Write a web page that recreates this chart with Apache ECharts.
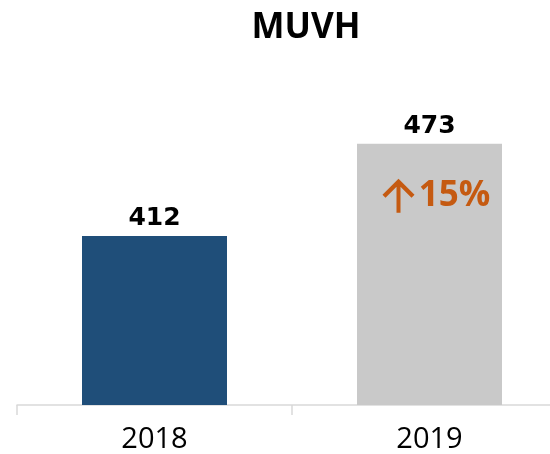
<!DOCTYPE html>
<html>
<head>
<meta charset="utf-8">
<script src="https://cdn.jsdelivr.net/npm/echarts@6/dist/echarts.min.js"></script>
<style>
  html, body { margin: 0; padding: 0; background: #fff; }
  #chart { width: 550px; height: 454px; }
</style>
</head>
<body>
<div id="chart"></div>
<script>
const years = ["2018", "2019"]
const muvh = [412, 473]
const barColors = ["#1F4E79", "#C9C9C9"]
const growthText = "15%"

// up arrow drawn as a symbol, the text "15%" sits to its right
const arrowPath = "path://M16 0 L32 16 L29 19 L18 8 L18 34 L14 34 L14 8 L3 19 L0 16 Z"
const orange = "#C55A11"

const chart = echarts.init(document.getElementById("chart"))

chart.setOption({
  animation: false,
  textStyle: { fontFamily: "Open Sans" },
  title: {
    text: "MUVH",
    left: 301,
    top: 6,
    textAlign: "center",
    textStyle: { fontSize: 35, fontWeight: "bold", color: "#000", fontFamily: "Open Sans" },
  },
  grid: { left: 17, width: 550, top: 103, bottom: 49, outerBoundsMode: "none", containLabel: false },
  xAxis: {
    type: "category",
    data: years,
    axisLine: { show: true, lineStyle: { color: "#D9D9D9", width: 1.5 } },
    axisTick: { show: true, length: 10, lineStyle: { color: "#D9D9D9", width: 1.5 } },
    axisLabel: { fontSize: 29, color: "#000", margin: 20 },
  },
  yAxis: {
    type: "value",
    min: 300,
    max: 500,
    show: false,
    splitLine: { show: false },
  },
  series: [
    {
      type: "bar",
      barWidth: 145,
      data: muvh.map((v, i) => ({ value: v, itemStyle: { color: barColors[i] } })),
      label: {
        show: true,
        position: "top",
        distance: 5,
        fontSize: 25,
        fontWeight: "bold",
        fontFamily: "DejaVu Sans",
        color: "#000",
      },
      markPoint: {
        data: [
          {
            coord: [years[1], 438.5],
            symbol: arrowPath,
            symbolSize: [32, 34],
            symbolOffset: [-31, 0],
            itemStyle: { color: orange },
            label: { show: false },
          },
          {
            coord: [years[1], 438.5],
            symbol: "circle",
            symbolSize: 1,
            itemStyle: { color: "rgba(0,0,0,0)" },
            label: {
              show: true,
              position: "inside",
              formatter: growthText,
              offset: [25, 0],
              fontSize: 35,
              fontWeight: "bold",
              fontFamily: "Open Sans",
              color: orange,
            },
          },
        ],
      },
    },
  ],
})
</script>
</body>
</html>
